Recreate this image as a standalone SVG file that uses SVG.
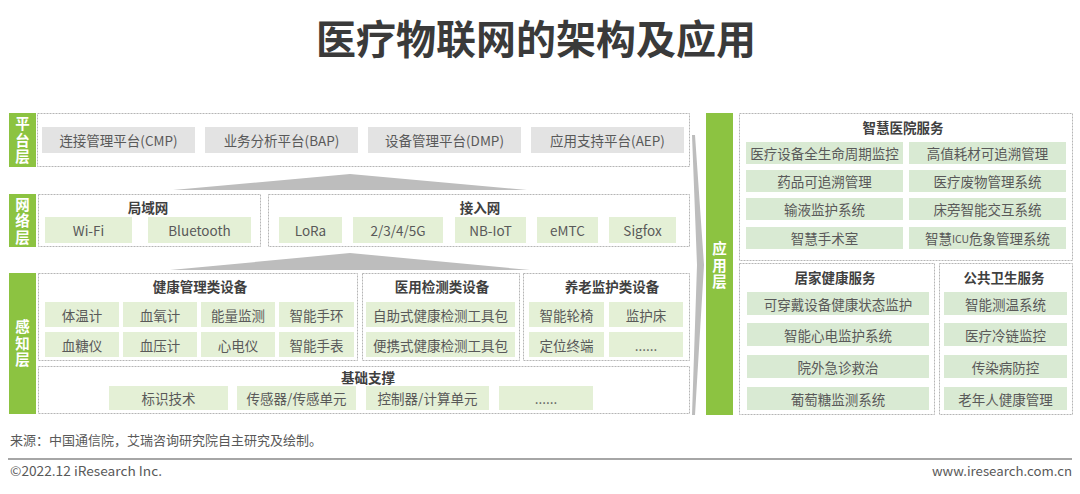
<svg xmlns="http://www.w3.org/2000/svg" width="1080" height="494" viewBox="0 0 1080 494">
<defs>
<style>
text{font-family:"Noto Sans CJK SC","Noto Sans",sans-serif;}
.title{font-size:40px;font-weight:bold;fill:#3a3a3a;text-anchor:middle;}
.bar{fill:#8cc341;}
.bl{font-size:14.5px;font-weight:bold;fill:#ffffff;text-anchor:middle;writing-mode:vertical-rl;letter-spacing:2px;}
.dash{fill:none;stroke:#b5b5b5;stroke-width:1;stroke-dasharray:2 1;}
.gbox{fill:#e3e3e3;}
.lbox{fill:#e4f0d6;}
.rbox{fill:#d9ead3;}
.t{font-size:13.5px;fill:#595959;text-anchor:middle;dominant-baseline:central;}
.h{font-size:13.5px;font-weight:bold;fill:#404040;text-anchor:middle;dominant-baseline:central;}
.wedge{fill:#bdbdbd;}
.foot{font-size:13px;fill:#595959;}
</style>
</defs>
<rect width="1080" height="494" fill="#ffffff"/>
<text class="title" x="536" y="54">医疗物联网的架构及应用</text>

<g id="connectors">
<polygon class="wedge" points="173,190 350,174 527,190"/>
<polygon class="wedge" points="170,270 350,253 530,270"/>
<polygon class="wedge" points="692,135 695,135 704,265 695,415 692,415 697,265"/>
</g>

<g id="platform-layer">
<rect class="bar" x="9" y="113" width="27" height="54"/>
<text class="bl" x="22.5" y="141">平台层</text>
<rect class="dash" x="37.5" y="113.5" width="652" height="53"/>
<rect class="gbox" x="42" y="127" width="153" height="26"/><text class="t" x="118.5" y="140">连接管理平台(CMP)</text>
<rect class="gbox" x="205" y="127" width="153" height="26"/><text class="t" x="281.5" y="140">业务分析平台(BAP)</text>
<rect class="gbox" x="368" y="127" width="153" height="26"/><text class="t" x="444.5" y="140">设备管理平台(DMP)</text>
<rect class="gbox" x="531" y="127" width="153" height="26"/><text class="t" x="607.5" y="140">应用支持平台(AEP)</text>
</g>

<g id="network-layer">
<rect class="bar" x="9" y="194" width="27" height="53"/>
<text class="bl" x="22.5" y="221.5">网络层</text>
<g id="lan">
<rect class="dash" x="38.5" y="194.5" width="222" height="52"/>
<text class="h" x="148" y="207">局域网</text>
<rect class="lbox" x="45" y="217" width="87" height="26"/><text class="t" x="88.5" y="230">Wi-Fi</text>
<rect class="lbox" x="148" y="217" width="103" height="26"/><text class="t" x="199.5" y="230">Bluetooth</text>
</g>
<g id="access-net">
<rect class="dash" x="268.5" y="194.5" width="421" height="52"/>
<text class="h" x="480" y="207">接入网</text>
<rect class="lbox" x="279" y="217" width="63" height="26"/><text class="t" x="310.5" y="230">LoRa</text>
<rect class="lbox" x="353" y="217" width="90" height="26"/><text class="t" x="398" y="230">2/3/4/5G</text>
<rect class="lbox" x="455" y="217" width="71" height="26"/><text class="t" x="490.5" y="230">NB-IoT</text>
<rect class="lbox" x="537" y="217" width="61" height="26"/><text class="t" x="567.5" y="230">eMTC</text>
<rect class="lbox" x="609" y="217" width="67" height="26"/><text class="t" x="642.5" y="230">Sigfox</text>
</g>
</g>

<g id="perception-layer">
<rect class="bar" x="9" y="273" width="27" height="141"/>
<text class="bl" x="22.5" y="344">感知层</text>
<g id="health-devices">
<rect class="dash" x="38.5" y="273.5" width="319" height="87"/>
<text class="h" x="200" y="286">健康管理类设备</text>
<rect class="lbox" x="45" y="302" width="74" height="25"/><text class="t" x="82" y="314.5">体温计</text>
<rect class="lbox" x="123" y="302" width="74" height="25"/><text class="t" x="160" y="314.5">血氧计</text>
<rect class="lbox" x="201" y="302" width="74" height="25"/><text class="t" x="238" y="314.5">能量监测</text>
<rect class="lbox" x="279" y="302" width="75" height="25"/><text class="t" x="316.5" y="314.5">智能手环</text>
<rect class="lbox" x="45" y="332" width="74" height="25"/><text class="t" x="82" y="344.5">血糖仪</text>
<rect class="lbox" x="123" y="332" width="74" height="25"/><text class="t" x="160" y="344.5">血压计</text>
<rect class="lbox" x="201" y="332" width="74" height="25"/><text class="t" x="238" y="344.5">心电仪</text>
<rect class="lbox" x="279" y="332" width="75" height="25"/><text class="t" x="316.5" y="344.5">智能手表</text>
</g>
<g id="medical-devices">
<rect class="dash" x="362.5" y="273.5" width="157" height="87"/>
<text class="h" x="442" y="286">医用检测类设备</text>
<rect class="lbox" x="366" y="302" width="149" height="25"/><text class="t" x="440.5" y="314.5">自助式健康检测工具包</text>
<rect class="lbox" x="366" y="332" width="149" height="25"/><text class="t" x="440.5" y="344.5">便携式健康检测工具包</text>
</g>
<g id="elderly-devices">
<rect class="dash" x="523.5" y="273.5" width="166" height="87"/>
<text class="h" x="612" y="286">养老监护类设备</text>
<rect class="lbox" x="529" y="302" width="75" height="25"/><text class="t" x="566.5" y="314.5">智能轮椅</text>
<rect class="lbox" x="609" y="302" width="74" height="25"/><text class="t" x="646" y="314.5">监护床</text>
<rect class="lbox" x="529" y="332" width="75" height="25"/><text class="t" x="566.5" y="344.5">定位终端</text>
<rect class="lbox" x="609" y="332" width="74" height="25"/><text class="t" x="646" y="344.5">......</text>
</g>
<g id="base-support">
<rect class="dash" x="38.5" y="366.5" width="651" height="47"/>
<text class="h" x="368" y="377">基础支撑</text>
<rect class="lbox" x="109" y="386" width="119" height="24"/><text class="t" x="168.5" y="398">标识技术</text>
<rect class="lbox" x="237" y="386" width="119" height="24"/><text class="t" x="296.5" y="398">传感器/传感单元</text>
<rect class="lbox" x="366" y="386" width="123" height="24"/><text class="t" x="427.5" y="398">控制器/计算单元</text>
<rect class="lbox" x="499" y="386" width="94" height="24"/><text class="t" x="546" y="398">......</text>
</g>
</g>

<g id="application-layer">
<rect class="bar" x="706" y="113" width="27" height="302"/>
<text class="bl" x="719.5" y="266">应用层</text>
<g id="smart-hospital">
<rect class="dash" x="739.5" y="113.5" width="333" height="147"/>
<text class="h" x="903" y="127">智慧医院服务</text>
<rect class="rbox" x="746" y="142" width="157" height="22"/><text class="t" x="824.5" y="153">医疗设备全生命周期监控</text>
<rect class="rbox" x="909" y="142" width="157" height="22"/><text class="t" x="987.5" y="153">高值耗材可追溯管理</text>
<rect class="rbox" x="746" y="170" width="157" height="22"/><text class="t" x="824.5" y="181">药品可追溯管理</text>
<rect class="rbox" x="909" y="170" width="157" height="22"/><text class="t" x="987.5" y="181">医疗废物管理系统</text>
<rect class="rbox" x="746" y="198" width="157" height="22"/><text class="t" x="824.5" y="209">输液监护系统</text>
<rect class="rbox" x="909" y="198" width="157" height="22"/><text class="t" x="987.5" y="209">床旁智能交互系统</text>
<rect class="rbox" x="746" y="227" width="157" height="22"/><text class="t" x="824.5" y="238">智慧手术室</text>
<rect class="rbox" x="909" y="227" width="157" height="22"/><text class="t" x="987.5" y="238">智慧<tspan font-size="10.5">ICU</tspan>危象管理系统</text>
</g>
<g id="home-health">
<rect class="dash" x="739.5" y="263.5" width="195" height="151"/>
<text class="h" x="835" y="277">居家健康服务</text>
<rect class="rbox" x="747" y="292" width="182" height="23"/><text class="t" x="838" y="303.5">可穿戴设备健康状态监护</text>
<rect class="rbox" x="747" y="323" width="182" height="23"/><text class="t" x="838" y="334.5">智能心电监护系统</text>
<rect class="rbox" x="747" y="355" width="182" height="23"/><text class="t" x="838" y="366.5">院外急诊救治</text>
<rect class="rbox" x="747" y="387" width="182" height="23"/><text class="t" x="838" y="398.5">葡萄糖监测系统</text>
</g>
<g id="public-health">
<rect class="dash" x="939.5" y="263.5" width="133" height="151"/>
<text class="h" x="1004" y="277">公共卫生服务</text>
<rect class="rbox" x="944" y="292" width="123" height="23"/><text class="t" x="1005.5" y="303.5">智能测温系统</text>
<rect class="rbox" x="944" y="323" width="123" height="23"/><text class="t" x="1005.5" y="334.5">医疗冷链监控</text>
<rect class="rbox" x="944" y="355" width="123" height="23"/><text class="t" x="1005.5" y="366.5">传染病防控</text>
<rect class="rbox" x="944" y="387" width="123" height="23"/><text class="t" x="1005.5" y="398.5">老年人健康管理</text>
</g>
</g>

<g id="footer">
<text class="foot" x="10" y="445">来源：中国通信院，艾瑞咨询研究院自主研究及绘制。</text>
<line x1="8" y1="459" x2="1072" y2="459" stroke="#a6a6a6" stroke-width="2"/>
<text class="foot" x="10" y="476" textLength="152" lengthAdjust="spacingAndGlyphs">©2022.12 iResearch Inc.</text>
<text class="foot" x="1072" y="476" text-anchor="end" textLength="140" lengthAdjust="spacingAndGlyphs">www.iresearch.com.cn</text>
</g>
</svg>
